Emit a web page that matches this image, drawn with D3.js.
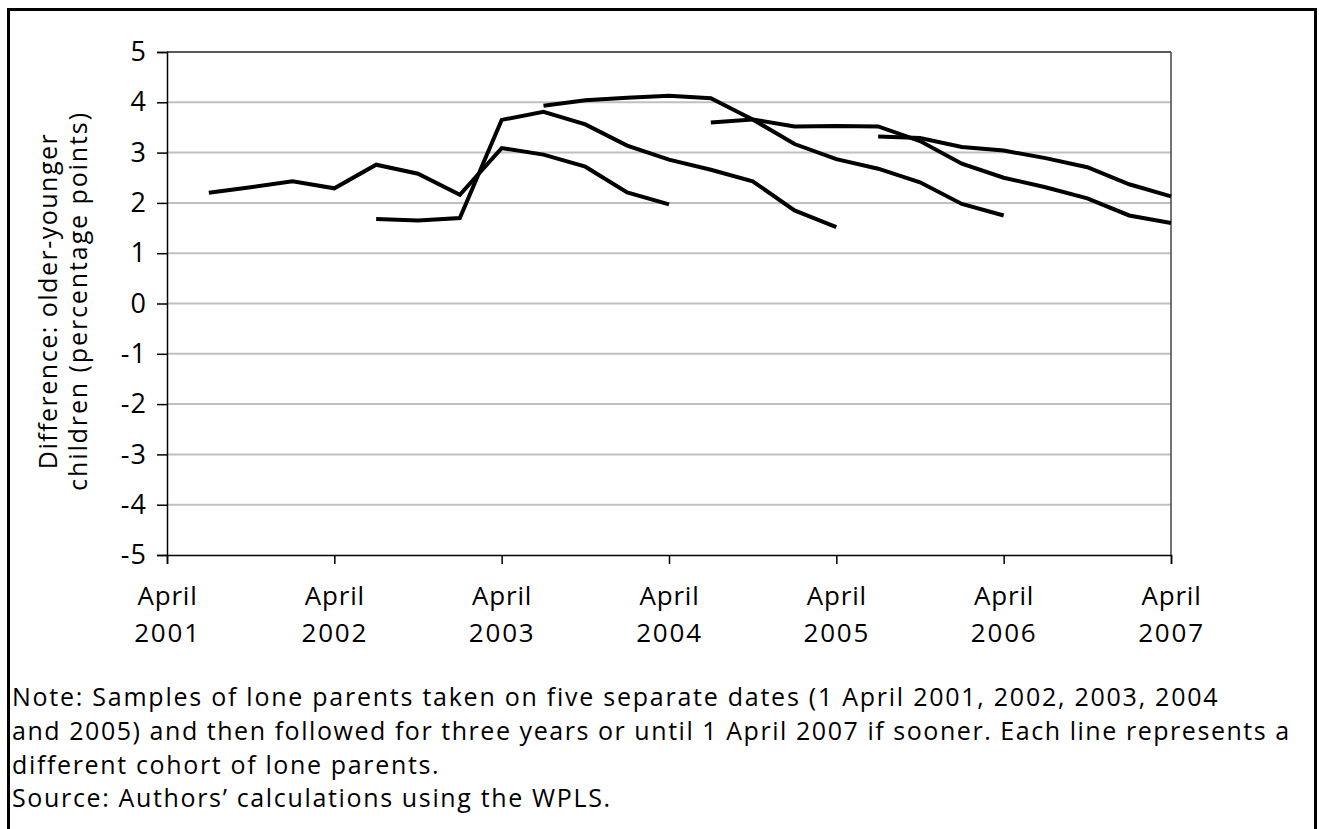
<!DOCTYPE html>
<html>
<head>
<meta charset="utf-8">
<script src="https://cdn.jsdelivr.net/npm/d3@7"></script>
<style>
  html, body { margin: 0; padding: 0; background: #fff; }
  svg { display: block; }
  text { font-family: "Open Sans", sans-serif; fill: #000; }
</style>
</head>
<body>
<svg id="chart" width="1319" height="829"></svg>
<script>
// Quarter index: 0 = April 2001, 1 = July 2001, ... 24 = April 2007
const tickQuarters = [0, 4, 8, 12, 16, 20, 24];
const tickMonth = ["April", "April", "April", "April", "April", "April", "April"];
const tickYear = ["2001", "2002", "2003", "2004", "2005", "2006", "2007"];
const yTicks = [5, 4, 3, 2, 1, 0, -1, -2, -3, -4, -5];

// Cohorts: first quarter index and values (quarterly)
const cohortNames = ["2001", "2002", "2003", "2004", "2005"];
const cohortStart = [1, 5, 9, 13, 17];
const cohort2001 = [2.20, 2.31, 2.43, 2.29, 2.76, 2.58, 2.16, 3.09, 2.96, 2.72, 2.21, 1.97];
const cohort2002 = [1.68, 1.65, 1.70, 3.65, 3.81, 3.56, 3.14, 2.86, 2.66, 2.43, 1.85, 1.52];
const cohort2003 = [3.93, 4.04, 4.09, 4.13, 4.08, 3.66, 3.17, 2.87, 2.68, 2.41, 1.98, 1.75];
const cohort2004 = [3.60, 3.66, 3.52, 3.53, 3.52, 3.23, 2.78, 2.50, 2.31, 2.09, 1.75, 1.60];
const cohort2005 = [3.32, 3.29, 3.11, 3.04, 2.89, 2.71, 2.37, 2.13];
const cohortValues = [cohort2001, cohort2002, cohort2003, cohort2004, cohort2005];

const yTitle = ["Difference: older-younger", "children (percentage points)"];
const notes = [
  "Note: Samples of lone parents taken on five separate dates (1 April 2001, 2002, 2003, 2004",
  "and 2005) and then followed for three years or until 1 April 2007 if sooner. Each line represents a",
  "different cohort of lone parents.",
  "Source: Authors\u2019 calculations using the WPLS."
];
const noteSpacing = [1.75, 1.55, 1.65, 1.65];

const svg = d3.select("#chart");

// outer frame
svg.append("rect")
  .attr("x", 8.5).attr("y", 9.5)
  .attr("width", 1307).attr("height", 840)
  .attr("fill", "none").attr("stroke", "#000").attr("stroke-width", 3);

const L = 167, R = 1171, T = 52, B = 555;
const x = d3.scaleLinear().domain([0, 24]).range([L, R]);
const y = d3.scaleLinear().domain([-5, 5]).range([B, T]);

// gridlines
svg.append("g").selectAll("line")
  .data(yTicks.filter(d => d !== -5 && d !== 5))
  .join("line")
  .attr("x1", L).attr("x2", R)
  .attr("y1", d => y(d)).attr("y2", d => y(d))
  .attr("stroke", "#c0c0c0").attr("stroke-width", 2);

// plot border top & right
svg.append("line").attr("x1", L).attr("x2", R).attr("y1", T).attr("y2", T)
  .attr("stroke", "#222").attr("stroke-width", 1.5);
svg.append("line").attr("x1", R).attr("x2", R).attr("y1", T).attr("y2", B)
  .attr("stroke", "#444").attr("stroke-width", 1.5);

// axes
const yAxis = d3.axisLeft(y).tickValues(yTicks).tickSize(10).tickPadding(10)
  .tickFormat(d => d3.format("d")(d).replace("\u2212", "-"));
const gy = svg.append("g").attr("transform", `translate(${L},0)`).call(yAxis);
gy.select(".domain").attr("stroke", "#000").attr("stroke-width", 1.5);
gy.selectAll(".tick line").attr("stroke", "#000").attr("stroke-width", 1.5);
gy.selectAll(".tick text").attr("font-size", 27).attr("font-family", "Open Sans")
  .attr("fill", "#000").attr("letter-spacing", 1);

const xAxis = d3.axisBottom(x).tickValues(tickQuarters).tickSize(9).tickFormat("");
const gx = svg.append("g").attr("transform", `translate(0,${B})`).call(xAxis);
gx.select(".domain").attr("stroke", "#000").attr("stroke-width", 1.5);
gx.selectAll(".tick line").attr("stroke", "#000").attr("stroke-width", 1.5);
gx.selectAll(".tick").each(function(d, i) {
  const g = d3.select(this);
  g.append("text").attr("y", 50).attr("text-anchor", "middle")
    .attr("font-size", 26).attr("letter-spacing", 0.8).text(tickMonth[i]);
  g.append("text").attr("y", 87).attr("text-anchor", "middle")
    .attr("font-size", 26).attr("letter-spacing", 1.8).text(tickYear[i]);
});

// y title
const yt = svg.append("g").attr("transform", `translate(0,301) rotate(-90)`);
yt.append("text").attr("x", 0).attr("y", 57).attr("text-anchor", "middle")
  .attr("font-size", 25).attr("letter-spacing", 1.5).text(yTitle[0]);
yt.append("text").attr("x", 0).attr("y", 87).attr("text-anchor", "middle")
  .attr("font-size", 25).attr("letter-spacing", 1.9).text(yTitle[1]);

// lines
const line = d3.line().x(d => x(d.q)).y(d => y(d.v));
cohortValues.forEach((vals, ci) => {
  const pts = vals.map((v, i) => ({ q: cohortStart[ci] + i, v }));
  svg.append("path").datum(pts)
    .attr("d", line)
    .attr("fill", "none").attr("stroke", "#000")
    .attr("stroke-width", 4).attr("stroke-linejoin", "miter")
    .attr("stroke-linecap", "butt");
});

// notes
svg.append("g").selectAll("text").data(notes).join("text")
  .attr("x", 12).attr("y", (d, i) => 706 + i * 33.8)
  .attr("font-size", 25).attr("letter-spacing", (d, i) => noteSpacing[i]).text(d => d);
</script>
</body>
</html>
